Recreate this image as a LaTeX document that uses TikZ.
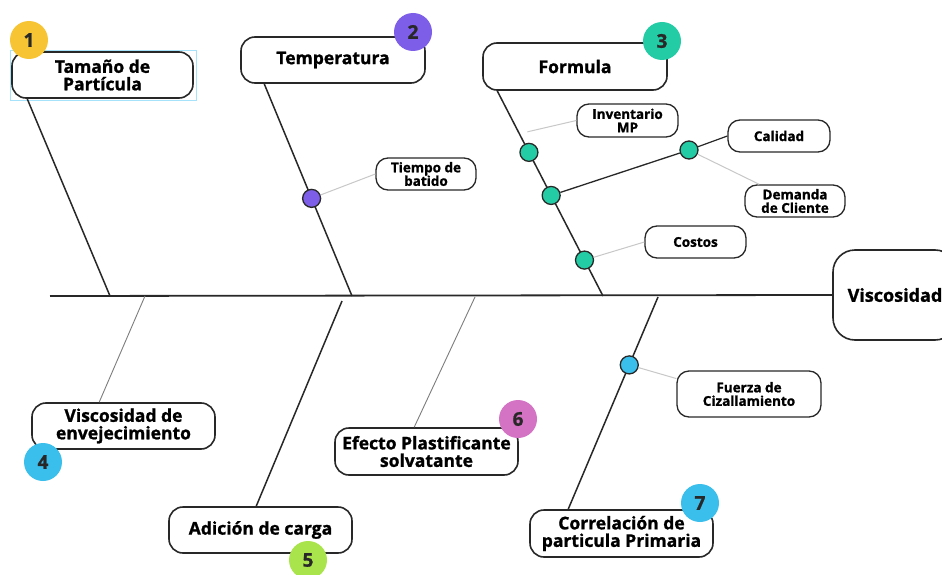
\documentclass[tikz,border=0pt]{standalone}
\usepackage{fontspec}
\setmainfont{Open Sans}[BoldFeatures={FakeBold=1.2}]
\usetikzlibrary{calc}
\definecolor{fishdark}{RGB}{40,40,40}
\definecolor{fishgray}{RGB}{125,125,125}
\definecolor{fishlight}{RGB}{200,200,200}
\definecolor{numyellow}{RGB}{247,196,52}
\definecolor{numpurple}{RGB}{124,94,232}
\definecolor{numteal}{RGB}{36,204,166}
\definecolor{numblue}{RGB}{58,190,236}
\definecolor{numlime}{RGB}{170,228,76}
\definecolor{numpink}{RGB}{212,114,196}

\begin{document}
\begin{tikzpicture}[
      x=1pt, y=-1pt,
      causebox/.style={draw=fishdark, line width=1.6pt, fill=white, rounded corners=14pt, align=center, inner sep=0pt, font=\fontsize{17.5}{17.5}\selectfont\bfseries},
      subbox/.style={draw=fishdark, line width=1.3pt, fill=white, rounded corners=12pt, align=center, inner sep=0pt, font=\fontsize{13.5}{13.5}\selectfont\bfseries},
      badge/.style={circle, minimum size=38pt, inner sep=0pt, text=fishdark, font=\fontsize{19}{19}\selectfont\bfseries},
      subdot/.style={circle, draw=fishdark, line width=1.3pt, minimum size=18pt, inner sep=0pt},
      bone/.style={fishdark, line width=1.5pt},
      thinbone/.style={fishgray, line width=0.9pt},
      lnk/.style={fishlight, line width=1pt}
    ]
      \useasboundingbox (0,0) rectangle (942,575);
      \clip (0,0) rectangle (942,575);
      \fill[white] (0,0) rectangle (942,575);

      % Causes
      \node[causebox, minimum width=181pt, minimum height=46pt] (tam) at (102.5,75) {Tamaño de\\Partícula};
      \node[causebox, minimum width=184pt, minimum height=46pt] (temp) at (333,60) {Temperatura};
      \node[causebox, minimum width=184pt, minimum height=47pt] (form) at (575,66.5) {Formula};
      \node[causebox, minimum width=183pt, minimum height=46pt] (vej) at (123.5,426) {Viscosidad de\\envejecimiento};
      \node[causebox, minimum width=183pt, minimum height=46pt] (adi) at (260.5,530) {Adición de carga};
      \node[causebox, minimum width=183pt, minimum height=47pt] (efe) at (426.5,451.5) {Efecto Plastificante\\solvatante};
      \node[causebox, minimum width=183pt, minimum height=47pt] (cor) at (621.5,533.5) {Correlación de\\particula Primaria};
      \node[causebox, minimum width=124pt, minimum height=90pt, rounded corners=22pt, font=\fontsize{18}{18}\selectfont\bfseries] (visc) at (895,295) {Viscosidad};
      \draw[cyan!35, line width=0.6pt] ($(tam.south west)+(-1,2)$) rectangle ($(tam.north east)+(2,-1)$);

      % Sub-causes
      \node[subbox, minimum width=100pt, minimum height=32pt] (tie) at (426,174) {Tiempo de\\batido};
      \node[subbox, minimum width=101pt, minimum height=33pt] (inv) at (627.5,120.5) {Inventario\\MP};
      \node[subbox, minimum width=102pt, minimum height=32pt] (cal) at (779,136) {Calidad};
      \node[subbox, minimum width=100pt, minimum height=32pt] (dem) at (795,201) {Demanda\\de Cliente};
      \node[subbox, minimum width=101pt, minimum height=32pt] (cos) at (695.5,242) {Costos};
      \node[subbox, minimum width=144pt, minimum height=46pt] (fue) at (749,394) {Fuerza de\\Cizallamiento};

      % Spine and bones
      \coordinate (sp) at (50,296);
      \draw[fishdark, line width=1.8pt] (sp) -- (visc.west);
      \coordinate (t1) at ($(tam.south west)+(16,0)$);
      \coordinate (t2) at ($(temp.south west)+(24,0)$);
      \coordinate (t3) at ($(form.south west)+(15,0)$);
      \coordinate (t4) at ($(vej.north west)+(68,0)$);
      \coordinate (t5) at ($(adi.north west)+(88,0)$);
      \coordinate (t6) at ($(efe.north west)+(80,0)$);
      \coordinate (t7) at ($(cor.north west)+(39,0)$);
      \coordinate (s1) at (110,296);
      \coordinate (s2) at (352,296);
      \coordinate (s3) at (603,296);
      \coordinate (s4) at (145,296);
      \coordinate (s5) at (342,301);
      \coordinate (s6) at (475,297);
      \coordinate (s7) at (658,297);
      \draw[bone] (t1) -- (s1);
      \draw[bone] (t2) -- (s2);
      \draw[bone] (t3) -- (s3);
      \draw[thinbone] (t4) -- (s4);
      \draw[bone] (t5) -- (s5);
      \draw[thinbone] (t6) -- (s6);
      \draw[bone] (t7) -- (s7);

      % Dots on the bones
      \node[subdot, fill=numpurple] (d2) at ($(t2)!0.54!(s2)$) {};
      \node[subdot, fill=numteal] (df1) at ($(t3)!0.30!(s3)$) {};
      \node[subdot, fill=numteal] (df2) at ($(t3)!0.51!(s3)$) {};
      \node[subdot, fill=numteal] (df3) at ($(t3)!0.825!(s3)$) {};
      \node[subdot, fill=numteal] (dc) at (689,150) {};
      \node[subdot, fill=numblue] (d7) at ($(t7)!0.68!(s7)$) {};
      \coordinate (fi) at ($(t3)!0.2!(s3)+(9,0)$);

      \draw[lnk] (d2) -- (tie.west);
      \draw[lnk] (fi) -- (inv.west);
      \draw[bone, line width=1.3pt] (df2) -- (dc);
      \draw[bone, line width=1.2pt] (dc) -- (cal.west);
      \draw[lnk] (dc) -- (dem.155);
      \draw[lnk] (df3) -- (cos.west);
      \draw[lnk] (d7) -- (fue.168);

      % Numbered badges
      \foreach \n/\xx/\yy/\c in {1/29/40/numyellow, 2/413/32/numpurple, 3/662/41/numteal,
          4/43/462/numblue, 5/308/560/numlime, 6/518/419/numpink, 7/700/503/numblue} {
        \node[badge, fill=\c] (n\n) at (\xx,\yy) {\n};
      }
    \end{tikzpicture}
\end{document}
